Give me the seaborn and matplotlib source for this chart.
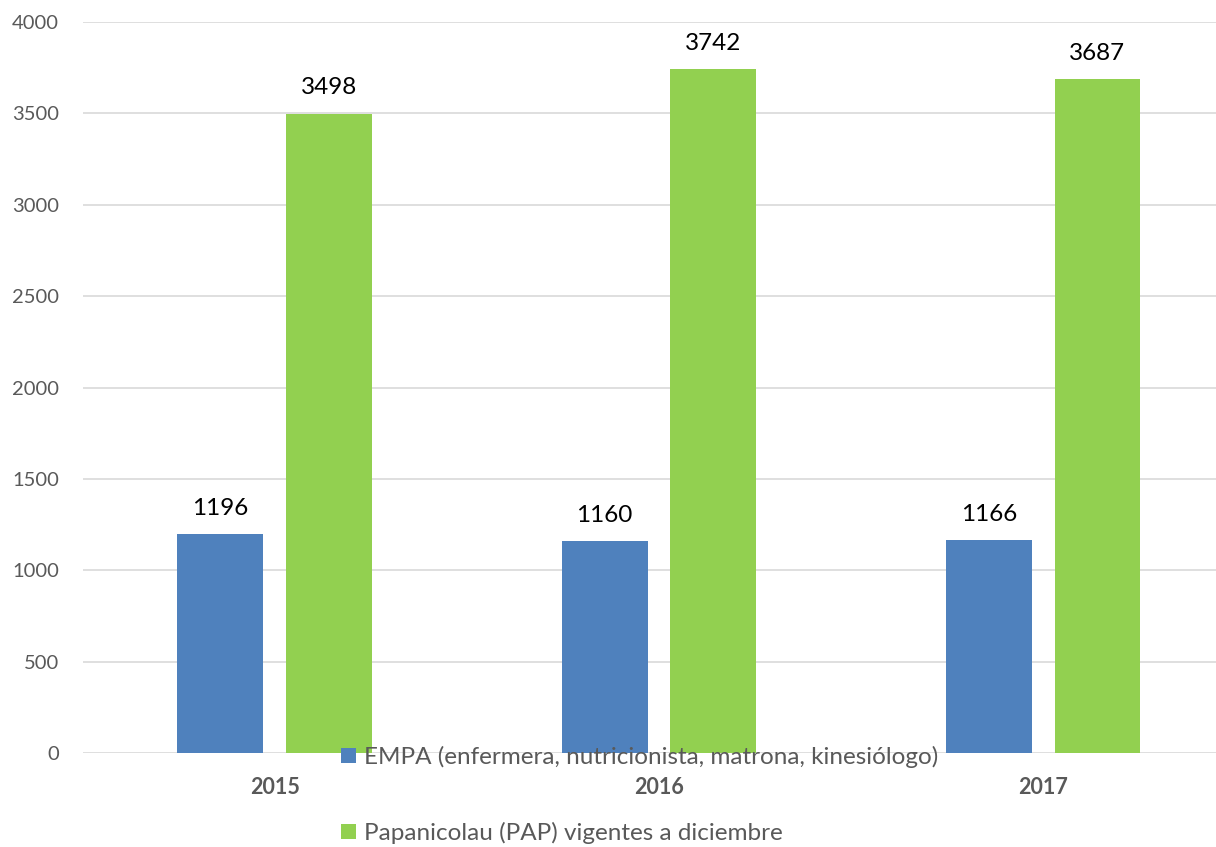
import pandas as pd
import matplotlib
matplotlib.use('Agg')
import matplotlib.pyplot as plt
import seaborn as sns

years = ['2015', '2016', '2017']
series_names = [
	'EMPA (enfermera, nutricionista, matrona, kinesiólogo)',
	'Papanicolau (PAP) vigentes a diciembre',
]
empa_values = [1196, 1160, 1166]
pap_values = [3498, 3742, 3687]
y_ticks = [0, 500, 1000, 1500, 2000, 2500, 3000, 3500, 4000]

series_colours = {
	series_names[0]: '#4F81BD',
	series_names[1]: '#92D050',
}


def build_frame():
	rows = []
	for year, value in zip(years, empa_values):
		rows.append({'year': year, 'serie': series_names[0], 'value': value})
	for year, value in zip(years, pap_values):
		rows.append({'year': year, 'serie': series_names[1], 'value': value})
	return pd.DataFrame(rows)


def main():
	df = build_frame()

	sns.set_theme(style='white')
	plt.rcParams['font.family'] = ['Lato', 'DejaVu Sans']

	fig = plt.figure(figsize=(12.16, 8.47), dpi=100)
	ax = fig.add_axes([0.068, 0.111, 0.932, 0.863])

	sns.barplot(
		data=df, x='year', y='value', hue='serie',
		order=years, hue_order=series_names,
		palette=series_colours, width=0.566, gap=0.21,
		saturation=1, edgecolor='none', legend=True, ax=ax)

	# value labels above each bar
	for container in ax.containers:
		ax.bar_label(container, padding=11, fontsize=17.5, color='black')

	ax.set_ylim(0, 4000)
	ax.set_xlim(-0.5, 2.45)
	ax.set_yticks(y_ticks)
	ax.set_yticklabels([str(t) for t in y_ticks])
	ax.yaxis.grid(True, color='#D9D9D9', linewidth=1.2)
	ax.set_axisbelow(True)
	ax.tick_params(axis='y', length=0, pad=17, labelsize=14.5, labelcolor='#595959')
	ax.tick_params(axis='x', length=0, pad=17, labelsize=15.5, labelcolor='#595959')
	for label in ax.get_xticklabels():
		label.set_fontweight('bold')
	ax.set_xlabel('')
	ax.set_ylabel('')
	sns.despine(ax=ax, left=True, bottom=True)

	handles, labels = ax.get_legend_handles_labels()
	ax.get_legend().remove()
	fig.legend(
		handles, labels, loc='upper left', bbox_to_anchor=(0.2804, 0.119),
		frameon=False, fontsize=17.5, labelcolor='#595959',
		handlelength=0.6, handleheight=0.6, handletextpad=0.35,
		labelspacing=2.2, borderaxespad=0, borderpad=0)

	fig.savefig('out.png', dpi=100)


if __name__ == '__main__':
	main()
